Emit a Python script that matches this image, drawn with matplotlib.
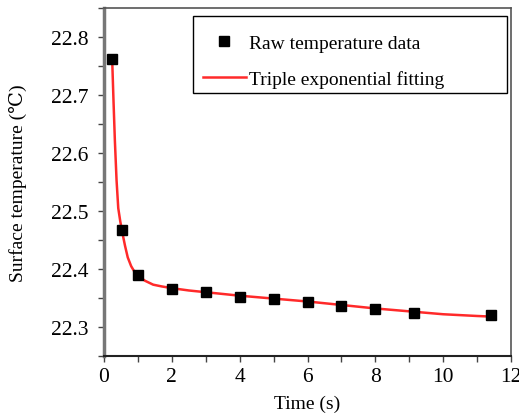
import matplotlib
matplotlib.use('Agg')
import matplotlib.pyplot as plt
from matplotlib.patches import Rectangle
from matplotlib.ticker import MultipleLocator

plt.rcParams['font.family'] = ['Liberation Serif', 'DejaVu Serif']

# 原始测温数据
time_raw = [0.24, 0.52, 1.0, 2.0, 3.0, 4.0, 5.0, 6.0, 7.0, 8.0, 9.13, 11.42]
temp_raw = [22.763, 22.467, 22.390, 22.365, 22.360, 22.352, 22.348, 22.343,
            22.337, 22.331, 22.324, 22.320]

# 三指数拟合曲线
time_fit = [0.24, 0.28, 0.32, 0.37, 0.42, 0.48, 0.55, 0.62, 0.70, 0.80, 0.90,
            1.0, 1.2, 1.45, 1.7, 2.0, 2.5, 3.0, 4.0, 5.0, 6.0, 7.0, 8.0,
            9.0, 10.0, 11.0, 11.4]
temp_fit = [22.763, 22.690, 22.622, 22.553, 22.505, 22.482, 22.460, 22.440,
            22.420, 22.405, 22.395, 22.389, 22.380, 22.373, 22.370, 22.367,
            22.363, 22.360, 22.354, 22.349, 22.344, 22.338, 22.332, 22.327,
            22.322, 22.319, 22.318]

fig = plt.figure(figsize=(5.19, 4.14), dpi=100)
ax = fig.add_axes([0.2004, 0.1377, 0.7842, 0.8403])

ax.plot(time_fit, temp_fit, color='#ff2a2a', lw=1.8, label='Triple exponential fitting', zorder=2)
ax.plot(time_raw, temp_raw, 's', color='black', ms=6.5, label='Raw temperature data', zorder=3)

ax.set_xlim(0, 12)
ax.set_ylim(22.25, 22.85)
ax.xaxis.set_major_locator(MultipleLocator(2))
ax.xaxis.set_minor_locator(MultipleLocator(1))
ax.yaxis.set_minor_locator(MultipleLocator(0.05))
ax.set_yticks([22.3, 22.4, 22.5, 22.6, 22.7, 22.8])
ax.set_yticklabels(['22.3', '22.4', '22.5', '22.6', '22.7', '22.8'])
ax.tick_params(which='both', direction='out', length=4, width=1, color='#444444', labelsize=15.5)
ax.tick_params(axis='y', pad=7)
ax.tick_params(axis='x', pad=4)

for side in ['top', 'right']:
    ax.spines[side].set_color('#555555')
    ax.spines[side].set_linewidth(1.2)
ax.spines['left'].set_color('#777777')
ax.spines['left'].set_linewidth(2.5)
ax.spines['bottom'].set_color('#222222')
ax.spines['bottom'].set_linewidth(1.5)

ax.set_xlabel('Time (s)', fontsize=14, labelpad=6)
ax.set_ylabel('Surface temperature (\u2103)', fontsize=14, labelpad=17)

# 图例边框单独画
ax.add_patch(Rectangle((0.2187, 0.756), 0.7715, 0.221, transform=ax.transAxes,
                       fill=False, edgecolor='black', lw=1.0, zorder=4))
h, l = ax.get_legend_handles_labels()
leg = ax.legend(h[::-1], l[::-1], loc='upper left', fontsize=14, frameon=False,
                handlelength=2.2, borderpad=0, labelspacing=0.9,
                handletextpad=0.15, borderaxespad=0,
                bbox_to_anchor=(0.2432, 0.924))

plt.savefig('out.png', dpi=100)
plt.close()
